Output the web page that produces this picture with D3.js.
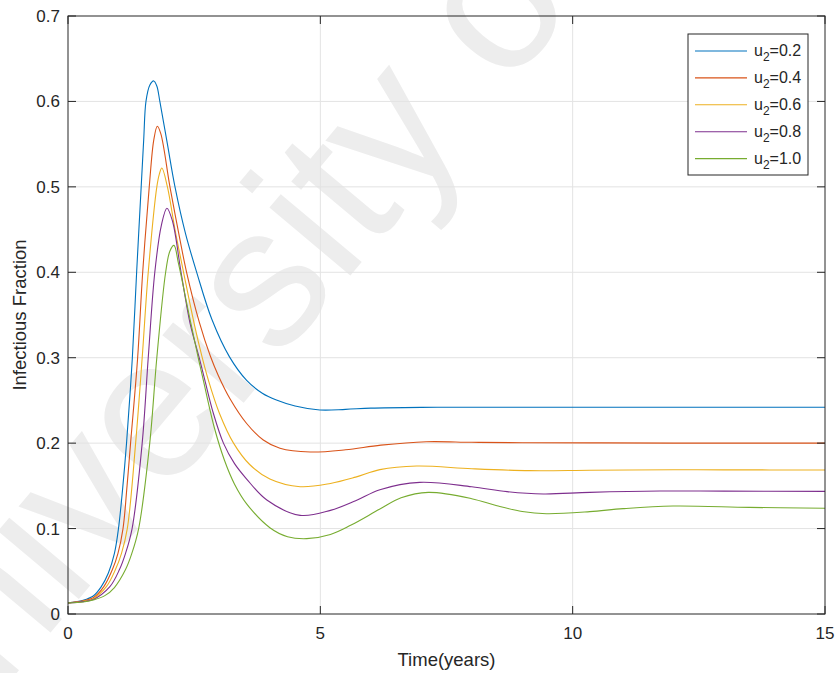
<!DOCTYPE html>
<html>
<head>
<meta charset="utf-8">
<script src="https://cdn.jsdelivr.net/npm/d3@7"></script>
<style>
body { margin: 0; background: #fff; }
text { font-family: "Liberation Sans", Arial, sans-serif; }
</style>
</head>
<body>
<svg id="chart"></svg>
<script>
// tick values
const xTicks = [0, 5, 10, 15]
const yTicks = [0, 0.1, 0.2, 0.3, 0.4, 0.5, 0.6, 0.7]
const legendValues = ["0.2", "0.4", "0.6", "0.8", "1.0"]

// [time, infectious fraction]
const u02 = [[0,0.013],[0.3,0.016],[0.5,0.021],[0.66,0.032],[0.8,0.048],[0.92,0.071],[1.0,0.10],[1.08,0.145],[1.16,0.20],[1.275,0.30],[1.36,0.40],[1.45,0.50],[1.5,0.555],[1.545,0.60],[1.62,0.619],[1.70,0.624],[1.76,0.618],[1.82,0.60],[1.97,0.55],[2.12,0.50],[2.33,0.445],[2.55,0.40],[2.85,0.345],[3.2,0.301],[3.54,0.2735],[3.85,0.2585],[4.13,0.2505],[4.5,0.2435],[4.99,0.2388],[5.5,0.2395],[6,0.241],[7,0.2419],[8,0.242],[10,0.242],[12,0.242],[15,0.242]]
const u04 = [[0,0.013],[0.3,0.0155],[0.5,0.019],[0.71,0.032],[0.88,0.052],[0.99,0.071],[1.09,0.10],[1.17,0.15],[1.24,0.20],[1.38,0.30],[1.48,0.40],[1.61,0.50],[1.70,0.555],[1.77,0.571],[1.84,0.562],[2.02,0.50],[2.18,0.45],[2.35,0.40],[2.6,0.342],[2.82,0.302],[2.98,0.279],[3.21,0.252],[3.54,0.223],[3.87,0.2037],[4.2,0.194],[4.8,0.1896],[5.5,0.1922],[6.2,0.1977],[7.1,0.2017],[8,0.201],[9,0.2005],[10.34,0.2003],[12,0.2],[15,0.2]]
const u06 = [[0,0.013],[0.3,0.015],[0.5,0.018],[0.76,0.032],[0.94,0.052],[1.06,0.071],[1.175,0.10],[1.34,0.20],[1.47,0.30],[1.59,0.40],[1.76,0.50],[1.81,0.515],[1.86,0.522],[1.97,0.50],[2.12,0.45],[2.29,0.40],[2.5,0.34],[2.66,0.30],[2.78,0.274],[3.0,0.235],[3.28,0.20],[3.6,0.175],[4.0,0.158],[4.6,0.149],[5.2,0.1528],[5.7,0.1602],[6.18,0.169],[6.91,0.1732],[8,0.170],[9.15,0.1678],[10.34,0.1682],[12,0.1688],[13,0.1687],[15,0.1686]]
const u08 = [[0,0.013],[0.3,0.0145],[0.5,0.017],[0.83,0.032],[1.02,0.052],[1.14,0.071],[1.27,0.10],[1.47,0.20],[1.59,0.30],[1.72,0.40],[1.85,0.455],[1.96,0.475],[2.07,0.46],[2.24,0.40],[2.42,0.34],[2.6,0.30],[2.71,0.274],[2.88,0.235],[3.08,0.20],[3.3,0.176],[3.54,0.158],[3.94,0.1334],[4.6,0.1155],[5.2,0.1213],[5.7,0.1326],[6.18,0.1455],[6.97,0.1541],[8,0.149],[8.7,0.1432],[9.42,0.1405],[10.34,0.1424],[11.73,0.144],[13,0.1438],[15,0.1436]]
const u10 = [[0,0.013],[0.3,0.014],[0.5,0.0165],[0.73,0.0215],[0.92,0.031],[1.14,0.052],[1.26,0.070],[1.40,0.10],[1.62,0.20],[1.76,0.30],[1.935,0.40],[2.02,0.425],[2.10,0.4315],[2.19,0.41],[2.4,0.35],[2.58,0.30],[2.68,0.274],[2.9,0.218],[3.1,0.180],[3.3,0.152],[3.54,0.129],[4.0,0.101],[4.35,0.0905],[4.73,0.0882],[5.2,0.0931],[5.6,0.1038],[6.18,0.1228],[6.6,0.136],[7.14,0.1424],[8,0.135],[8.5,0.1267],[9.0,0.12],[9.48,0.1174],[10.34,0.1198],[11.0,0.1233],[11.99,0.1264],[13.5,0.1248],[15,0.1237]]

const allSeries = [u02, u04, u06, u08, u10]
const colors = ["#0072BD", "#D95319", "#EDB120", "#7E2F8E", "#77AC30"]

let svg = d3.select("#chart"),
    w = 837,
    h = 673
svg.attr("width", w).attr("height", h)

var x = d3.scaleLinear().domain([0, 15]).range([68, 825])
var y = d3.scaleLinear().domain([0, 0.7]).range([614, 16])

// watermark
svg.append("text")
    .attr("transform", "translate(-94,805) rotate(-50)")
    .attr("font-size", 200)
    .attr("fill", "#ededed")
    .text("University of Malaya")

// grid
svg.append("g").selectAll("line").data(xTicks.slice(1, -1))
    .enter().append("line")
    .attr("x1", d => x(d)).attr("x2", d => x(d))
    .attr("y1", y(0)).attr("y2", y(0.7))
    .attr("stroke", "#e3e3e3")
svg.append("g").selectAll("line").data(yTicks.slice(1, -1))
    .enter().append("line")
    .attr("x1", x(0)).attr("x2", x(15))
    .attr("y1", d => y(d)).attr("y2", d => y(d))
    .attr("stroke", "#e3e3e3")

// curves
var line = d3.line()
    .x(d => x(d[0]))
    .y(d => y(d[1]))
    .curve(d3.curveCatmullRom.alpha(0.5))

svg.append("g").selectAll("path").data(allSeries)
    .enter().append("path")
    .attr("d", line)
    .attr("fill", "none")
    .attr("stroke", (d, i) => colors[i])
    .attr("stroke-width", 1.1)

// axes (box with ticks inside on all sides)
var axisColor = "#262626"
var gAxes = svg.append("g")
gAxes.append("rect")
    .attr("x", x(0)).attr("y", y(0.7))
    .attr("width", x(15) - x(0)).attr("height", y(0) - y(0.7))
    .attr("fill", "none").attr("stroke", axisColor)

var tl = 8
xTicks.forEach(t => {
    gAxes.append("line").attr("x1", x(t)).attr("x2", x(t))
        .attr("y1", y(0)).attr("y2", y(0) - tl).attr("stroke", axisColor)
    gAxes.append("line").attr("x1", x(t)).attr("x2", x(t))
        .attr("y1", y(0.7)).attr("y2", y(0.7) + tl).attr("stroke", axisColor)
    gAxes.append("text")
        .attr("x", x(t)).attr("y", 639)
        .attr("text-anchor", "middle")
        .attr("font-size", 17)
        .attr("fill", axisColor)
        .text(t)
})
yTicks.forEach(t => {
    gAxes.append("line").attr("x1", x(0)).attr("x2", x(0) + tl)
        .attr("y1", y(t)).attr("y2", y(t)).attr("stroke", axisColor)
    gAxes.append("line").attr("x1", x(15)).attr("x2", x(15) - tl)
        .attr("y1", y(t)).attr("y2", y(t)).attr("stroke", axisColor)
    gAxes.append("text")
        .attr("x", 60).attr("y", y(t) + 6)
        .attr("text-anchor", "end")
        .attr("font-size", 17)
        .attr("fill", axisColor)
        .text(t)
})

svg.append("text")
    .attr("x", (x(0) + x(15)) / 2).attr("y", 666)
    .attr("text-anchor", "middle")
    .attr("font-size", 18.5)
    .attr("fill", axisColor)
    .text("Time(years)")
svg.append("text")
    .attr("transform", "translate(26," + (y(0) + y(0.7)) / 2 + ") rotate(-90)")
    .attr("text-anchor", "middle")
    .attr("font-size", 18.5)
    .attr("fill", axisColor)
    .text("Infectious Fraction")

// legend
var legend = svg.append("g").attr("transform", "translate(688,34)")
legend.append("rect")
    .attr("width", 120).attr("height", 141)
    .attr("fill", "#fff").attr("stroke", axisColor)
var rows = legend.selectAll("g.row").data(legendValues)
    .enter().append("g")
    .attr("transform", (d, i) => "translate(0," + (17 + i * 26.9) + ")")
rows.append("line")
    .attr("x1", 7).attr("x2", 59)
    .attr("stroke", (d, i) => colors[i])
    .attr("stroke-width", 1.1)
var lt = rows.append("text")
    .attr("x", 66).attr("y", 5)
    .attr("font-size", 16)
    .attr("fill", axisColor)
lt.append("tspan").text("u")
lt.append("tspan").attr("dy", 5).attr("font-size", 12).text("2")
lt.append("tspan").attr("dy", -5).text(d => "=" + d)
</script>
</body>
</html>
